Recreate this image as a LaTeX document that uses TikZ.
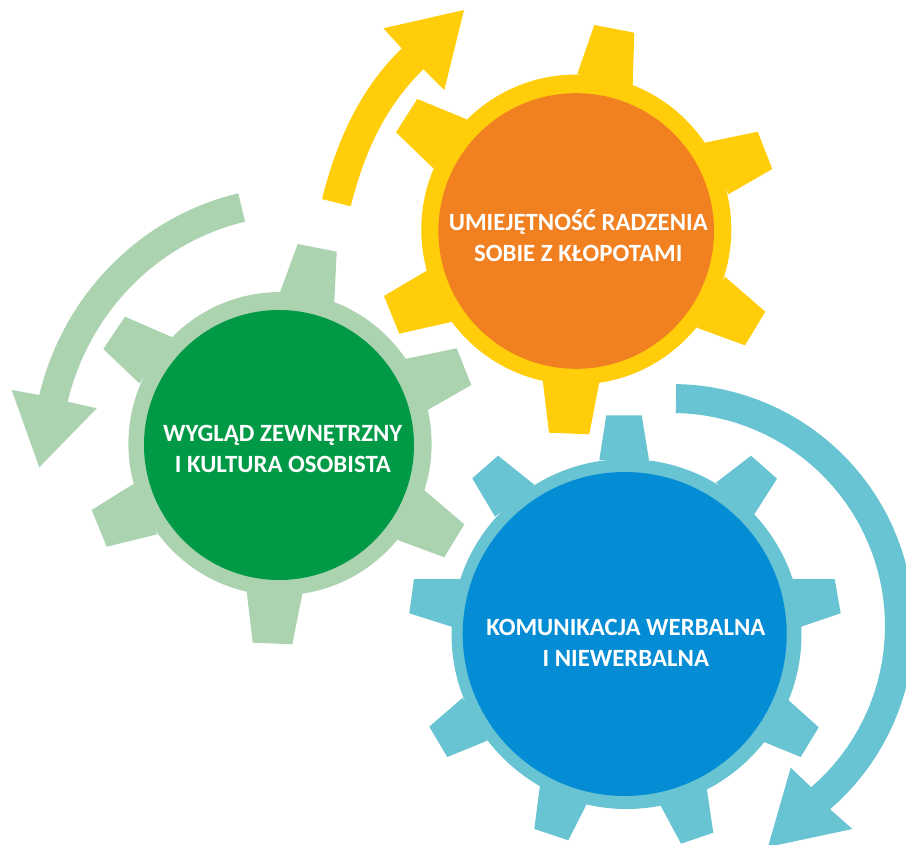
\documentclass[tikz,border=0pt]{standalone}
\usepackage{fontspec}
\setmainfont{Carlito}
\definecolor{orangeC}{HTML}{F18021}
\definecolor{yellowC}{HTML}{FFCD0A}
\definecolor{greenC}{HTML}{009A47}
\definecolor{lgreenC}{HTML}{ABD3B0}
\definecolor{blueC}{HTML}{048DD5}
\definecolor{lblueC}{HTML}{68C3D2}
\tikzset{
  disc/.style={circle,inner sep=0pt,outer sep=0pt},
  gearlabel/.style={text=white,font=\fontsize{24.8}{30.7}\selectfont\bfseries,align=center,inner sep=0pt},
}
\begin{document}
\begin{tikzpicture}[x=1pt,y=-1pt]
\useasboundingbox (0,0) rectangle (906,845);
\clip (0,0) rectangle (906,845);
% yellow arrow
\fill[yellowC] (322,199) .. controls (336.8,140.9) and (359,90.3) .. (401.7,48.3)
  -- (383.3,28.3) -- (464,10) -- (444.3,90) -- (423.3,69.3)
  .. controls (384,108) and (364.3,153) .. (350.7,206.3) -- cycle;
% green arrow
\fill[lgreenC] (238.3,193.3) .. controls (139.3,216.8) and (62.8,296) .. (39.3,395)
  -- (11.7,390) -- (39.3,467.3) -- (96.7,408.3) -- (67.7,401.7)
  .. controls (88.7,313.4) and (156.7,242.6) .. (245,221.7) -- cycle;
% blue arrow
\fill[lblueC] plot[domain=89:-49.2,samples=50] ({672+242*cos(\x)},{626-242*sin(\x)})
  -- (852.3,829) -- (768,847) -- (790.7,767.7) --
  plot[domain=-49.2:89,samples=50] ({672+213*cos(\x)},{626-213*sin(\x)}) -- cycle;
% orange gear
\fill[yellowC] (576.3,229.5) circle[radius=155];
\fill[yellowC] (577.3,74) -- (594.3,25) -- (634.3,32.7) -- (632.7,85) -- cycle;
\fill[yellowC] (705,142.7) -- (757.7,131.7) -- (772.3,169) -- (728.3,194.3) -- cycle;
\fill[yellowC] (725,276.7) -- (765.3,311.7) -- (745,345.3) -- (696.7,327.7) -- cycle;
\fill[yellowC] (599.3,382.3) -- (589.3,434.3) -- (549,432.7) -- (542.7,380) -- cycle;
\fill[yellowC] (452.3,321.7) -- (399.3,333.7) -- (384,296) -- (426.7,270.7) -- cycle;
\fill[yellowC] (433.3,168.3) -- (396,132.3) -- (417.3,99) -- (466.7,119.3) -- cycle;
\node[disc,fill=orangeC,minimum size=275.6pt] (orangedisc) at (576.2,231) {};
\node[gearlabel] (orangetext) at (578.3,236) {UMIEJĘTNOŚĆ RADZENIA\\SOBIE Z KŁOPOTAMI};
% green gear
\fill[lgreenC] (280,443.7) circle[radius=151.6];
\fill[lgreenC] (280,292.3) -- (297.7,244) -- (336.7,251.7) -- (334.3,302.3) -- cycle;
\fill[lgreenC] (405,359) -- (456.7,348.3) -- (471.3,385) -- (427.7,410) -- cycle;
\fill[lgreenC] (424,490) -- (464.3,524.3) -- (444.3,557.3) -- (397.7,540) -- cycle;
\fill[lgreenC] (302.3,594) -- (292.3,644.3) -- (252.7,642.7) -- (246.7,591.7) -- cycle;
\fill[lgreenC] (157.3,534.3) -- (106.7,546.7) -- (91.7,510) -- (133.3,484) -- cycle;
\fill[lgreenC] (139.3,383.3) -- (103.3,349) -- (125,316.7) -- (172.3,337.3) -- cycle;
\node[disc,fill=greenC,minimum size=270pt] (greendisc) at (279,445) {};
\node[gearlabel] (greentext) at (282.8,449) {WYGLĄD ZEWNĘTRZNY\\I KULTURA OSOBISTA};
% blue gear
\fill[lblueC] (626.5,634) circle[radius=175];
\fill[lblueC] (599.3,460) -- (606.3,415.3) -- (641.7,415.3) -- (649,460) -- cycle;
\fill[lblueC] (716,482.7) -- (751,455.7) -- (777,478.7) -- (754.3,514.3) -- cycle;
\fill[lblueC] (791.7,579) -- (834.7,579) -- (840.7,613.3) -- (801,626.7) -- cycle;
\fill[lblueC] (788.3,700) -- (818.7,727.3) -- (800.7,757) -- (763.3,741.7) -- cycle;
\fill[lblueC] (706.7,788.3) -- (713.3,832.7) -- (681,843.7) -- (660.3,805) -- cycle;
\fill[lblueC] (540,785) -- (534.3,829) -- (568.3,840.3) -- (586.7,804) -- cycle;
\fill[lblueC] (487.3,740.7) -- (447.3,757) -- (429.3,726.7) -- (462.7,697.7) -- cycle;
\fill[lblueC] (451.7,626.7) -- (409.3,613.3) -- (414,579) -- (461,579) -- cycle;
\fill[lblueC] (495,516.7) -- (472.3,478.3) -- (498,455.7) -- (534.3,484.7) -- cycle;
\node[disc,fill=blueC,minimum size=324pt] (bluedisc) at (624.7,634) {};
\node[gearlabel] (bluetext) at (625.8,643) {KOMUNIKACJA WERBALNA\\I NIEWERBALNA};
\end{tikzpicture}
\end{document}
